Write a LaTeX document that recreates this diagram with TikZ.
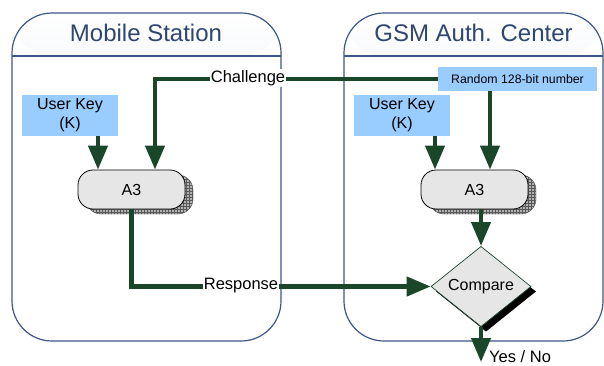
\documentclass[tikz,border=0pt]{standalone}
\usepackage{fontspec}
\setmainfont{Liberation Sans}
\usetikzlibrary{arrows.meta,shapes.geometric,shadows,patterns}
\definecolor{frame}{HTML}{3C5686}
\definecolor{hdr}{HTML}{CFD9E8}
\definecolor{ttl}{HTML}{2E4670}
\definecolor{keyblue}{HTML}{99CCFF}
\definecolor{flowgreen}{HTML}{1A472A}
\definecolor{boxgray}{HTML}{E6E6E6}
\begin{document}
\begin{tikzpicture}[x=1pt,y=-1pt,
  container/.style={draw=frame, line width=1.2pt, rounded corners=40pt, minimum width=#1, minimum height=328pt, inner sep=0pt,
    path picture={\shade[top color=white, bottom color=hdr] (path picture bounding box.north west) rectangle ([yshift=-43pt]path picture bounding box.north east);
      \draw[frame, line width=1.2pt] ([yshift=-43pt]path picture bounding box.north west) -- ([yshift=-43pt]path picture bounding box.north east);}},
  title/.style={text=ttl, font=\fontsize{24}{28}\selectfont},
  keybox/.style={fill=keyblue, minimum width=96pt, minimum height=41pt, inner sep=0pt, align=center, font=\fontsize{16}{19}\selectfont},
  algbox/.style={draw=black, line width=0.8pt, fill=boxgray, rounded corners=15pt, minimum width=107pt, minimum height=39pt, inner sep=0pt, font=\fontsize{16}{18}\selectfont,
    general shadow={shadow xshift=8pt, shadow yshift=-5pt, fill=gray!60, draw=black!70, thin, postaction={pattern=grid, pattern color=black!65}}},
  cmpbox/.style={diamond, draw=flowgreen, line width=0.7pt, fill=boxgray, minimum width=100pt, minimum height=54pt, inner sep=0pt, font=\fontsize{16}{18}\selectfont,
    general shadow={shadow xshift=5pt, shadow yshift=-5pt, fill=black}},
  lbl/.style={fill=white, inner sep=1pt, font=\fontsize{16.5}{19}\selectfont},
  flow/.style={draw=flowgreen, line width=4.3pt, -{Triangle[width=19pt,length=24pt]}}
]
\useasboundingbox (0,0) rectangle (604,365);
% containers
\node[container=269pt] (ms) at (146.5,177) {};
\node[container=259pt] (ac) at (473.5,177) {};
\node[title] (mst) at (146,33) {Mobile Station};
\node[title] (act) at (473.5,33) {GSM Auth. Center};
% boxes
\node[keybox] (ukl) at (70,115.5) {User Key\\(K)};
\node[keybox] (ukr) at (402,115.5) {User Key\\(K)};
\node[keybox, minimum width=159pt, minimum height=24pt, font=\fontsize{12.3}{14}\selectfont] (rnd) at (517.5,79) {Random 128-bit number};
\node[algbox] (a3l) at (131.5,189.5) {A3};
\node[algbox] (a3r) at (474.5,189.5) {A3};
\node[cmpbox] (cmp) at (481,286.5) {Compare};
\coordinate (out) at (481,362);
% connectors
\draw[flow] (rnd.west) -| ([xshift=23.5pt]a3l.north);
\draw[flow] ([xshift=28pt]ukl.south) -- ([xshift=28pt]ukl.south |- a3l.north);
\draw[flow] ([xshift=33pt]ukr.south) -- ([xshift=33pt]ukr.south |- a3r.north);
\draw[flow] ([xshift=-27.5pt]rnd.south) -- ([xshift=-27.5pt]rnd.south |- a3r.north);
\draw[flow] (a3r.south -| cmp.north) -- (cmp.north);
\draw[flow] (a3l.south) |- (cmp.west);
\draw[flow] (cmp.south) -- (out);
% labels
\node[lbl] (chl) at (248,78) {Challenge};
\node[lbl] (rsp) at (241,286) {Response};
\node[font=\fontsize{16.5}{19}\selectfont, anchor=west, inner sep=0pt] (yn) at (489,357) {Yes / No};
\end{tikzpicture}
\end{document}
